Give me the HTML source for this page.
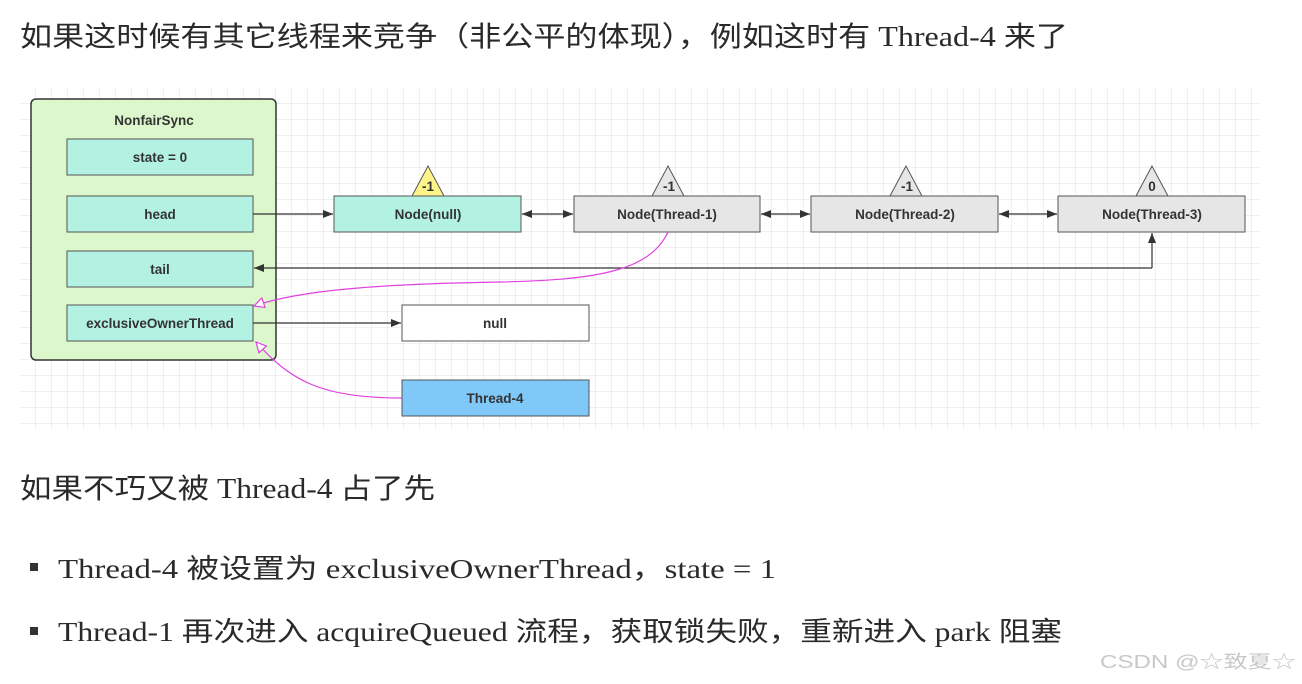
<!DOCTYPE html>
<html><head><meta charset="utf-8"><style>
html,body{margin:0;padding:0;background:#fff;width:1302px;height:684px;overflow:hidden}
svg{display:block}
.t{font-family:"Liberation Serif","Noto Sans CJK SC",serif;fill:#2a2a2a}
.d{font-family:"Liberation Sans","DejaVu Sans",sans-serif;font-size:13.5px;font-weight:bold;fill:#333;text-anchor:middle}
</style></head><body>
<svg width="1302" height="684" viewBox="0 0 1302 684" xmlns="http://www.w3.org/2000/svg">
<defs>
<pattern id="g" width="16" height="16" patternUnits="userSpaceOnUse" x="20" y="88">
<path d="M16 0V16M0 16H16" stroke="#e2e2e2" stroke-width="1" fill="none"/>
</pattern>
<marker id="a" viewBox="0 0 10 10" refX="10" refY="5" markerWidth="10" markerHeight="10" markerUnits="userSpaceOnUse" orient="auto-start-reverse"><path d="M0 1L10 5L0 9z" fill="#333"/></marker>
<marker id="p" viewBox="0 0 12 12" refX="11" refY="6" markerWidth="12" markerHeight="12" markerUnits="userSpaceOnUse" orient="auto"><path d="M1 1L11 6L1 11z" fill="#fff" stroke="#e040e0" stroke-width="1.2"/></marker>
</defs>
<rect x="0" y="0" width="1302" height="684" fill="#fff"/>
<rect x="20" y="88" width="1240" height="342" fill="url(#g)"/>

<text class="t" x="20" y="46" font-size="28" textLength="1048" lengthAdjust="spacingAndGlyphs">如果这时候有其它线程来竞争（非公平的体现），例如这时有 Thread-4 来了</text>

<rect x="31" y="99" width="245" height="261" rx="5" fill="#dcf7cb" stroke="#333" stroke-width="1.5"/>
<text class="d" x="154" y="125">NonfairSync</text>
<g fill="#b3f2e3" stroke="#555" stroke-width="1">
<rect x="67" y="139" width="186" height="36"/>
<rect x="67" y="196" width="186" height="36"/>
<rect x="67" y="251" width="186" height="36"/>
<rect x="67" y="305" width="186" height="36"/>
<rect x="334" y="196" width="187" height="36"/>
</g>
<text class="d" x="160" y="162">state = 0</text>
<text class="d" x="160" y="219">head</text>
<text class="d" x="160" y="274">tail</text>
<text class="d" x="160" y="328">exclusiveOwnerThread</text>

<g fill="#e6e6e6" stroke="#555" stroke-width="1">
<rect x="574" y="196" width="186" height="36"/>
<rect x="811" y="196" width="187" height="36"/>
<rect x="1058" y="196" width="187" height="36"/>
</g>
<text class="d" x="428" y="219">Node(null)</text>
<text class="d" x="667" y="219">Node(Thread-1)</text>
<text class="d" x="905" y="219">Node(Thread-2)</text>
<text class="d" x="1152" y="219">Node(Thread-3)</text>

<path d="M428 166L412 196H444Z" fill="#fff48a" stroke="#555"/>
<path d="M668 166L652 196H684Z" fill="#e6e6e6" stroke="#555"/>
<path d="M906 166L890 196H922Z" fill="#e6e6e6" stroke="#555"/>
<path d="M1152 166L1136 196H1168Z" fill="#e6e6e6" stroke="#555"/>
<text class="d" x="428" y="191" font-size="11" font-weight="normal">-1</text>
<text class="d" x="669" y="191" font-size="11" font-weight="normal">-1</text>
<text class="d" x="907" y="191" font-size="11" font-weight="normal">-1</text>
<text class="d" x="1152" y="191" font-size="11">0</text>

<rect x="402" y="305" width="187" height="36" fill="#fff" stroke="#555"/>
<text class="d" x="495" y="328">null</text>
<rect x="402" y="380" width="187" height="36" fill="#7fc8f8" stroke="#555"/>
<text class="d" x="495" y="403">Thread-4</text>

<g stroke="#333" stroke-width="1.2" fill="none">
<path d="M253 214H333" marker-end="url(#a)"/>
<path d="M522 214H573" marker-start="url(#a)" marker-end="url(#a)"/>
<path d="M761 214H810" marker-start="url(#a)" marker-end="url(#a)"/>
<path d="M999 214H1057" marker-start="url(#a)" marker-end="url(#a)"/>
<path d="M1152 268V233" marker-end="url(#a)"/>
<path d="M1152 268H254" marker-end="url(#a)"/>
<path d="M253 323H401" marker-end="url(#a)"/>
</g>
<g stroke="#e040e0" stroke-width="1.2" fill="none">
<path d="M668 232C650 270 600 280 500 282C380 284 300 290 254 306" marker-end="url(#p)"/>
<path d="M402 398C320 398 290 380 256 342" marker-end="url(#p)"/>
</g>

<text class="t" x="20" y="498" font-size="28" textLength="415" lengthAdjust="spacingAndGlyphs">如果不巧又被 Thread-4 占了先</text>

<rect x="30" y="563" width="8" height="8" fill="#333"/>
<text class="t" x="58" y="578" font-size="27" textLength="718" lengthAdjust="spacingAndGlyphs">Thread-4 被设置为 exclusiveOwnerThread，state = 1</text>
<rect x="30" y="627" width="8" height="8" fill="#333"/>
<text class="t" x="58" y="641" font-size="27" textLength="1004" lengthAdjust="spacingAndGlyphs">Thread-1 再次进入 acquireQueued 流程，获取锁失败，重新进入 park 阻塞</text>

<text x="1100" y="668" font-family="'Liberation Sans','Noto Sans CJK SC',sans-serif" font-size="18" fill="#c8c8c8" textLength="196" lengthAdjust="spacingAndGlyphs">CSDN @☆致夏☆</text>
</svg>
</body></html>
